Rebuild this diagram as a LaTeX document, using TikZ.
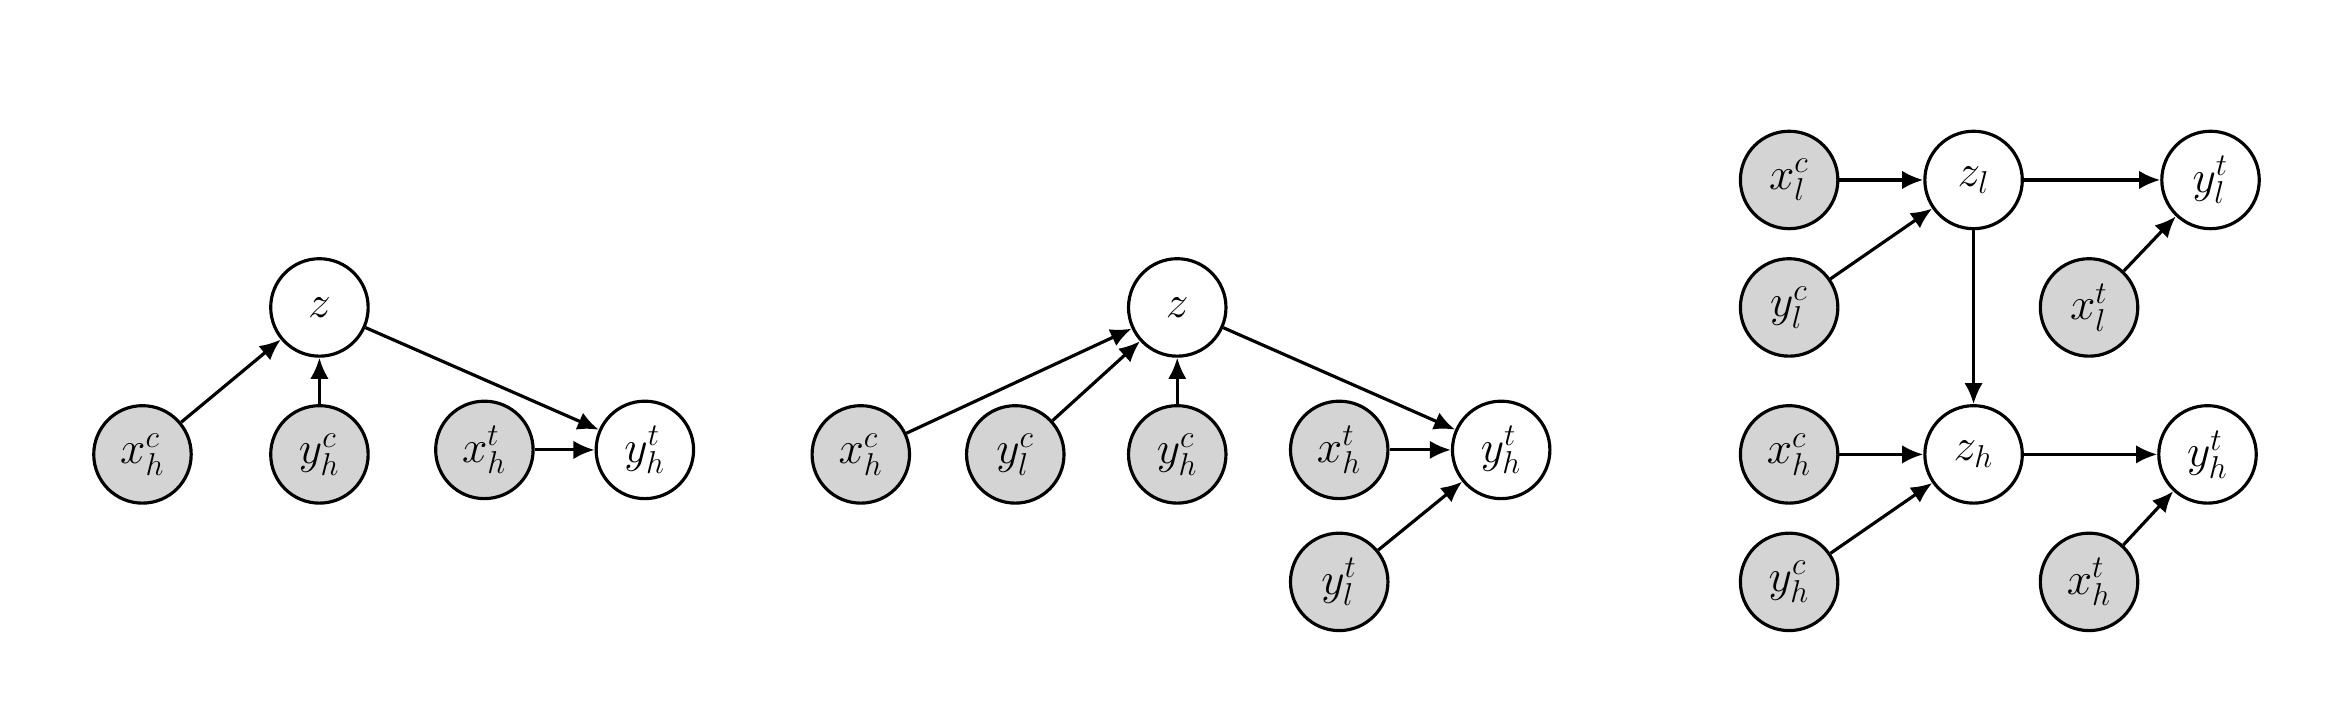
\documentclass[tikz,border=0pt]{standalone}
\usetikzlibrary{arrows.meta}
\begin{document}
\begin{tikzpicture}[x=0.02cm,y=-0.02cm,
  v/.style={circle,draw,line width=1.2pt,minimum size=1.3cm,inner sep=0pt,font=\LARGE},
  obs/.style={v,fill=black!17},
  lat/.style={v,fill=white},
  e/.style={-{Latex[length=8pt,width=7pt]},line width=1.2pt}]
\useasboundingbox (0,0) rectangle (1563,473);
% panel 1
\node[lat] (a z) at (213,205) {$z$};
\node[obs] (a xhc) at (95,303) {$x_h^c$};
\node[obs] (a yhc) at (213,303) {$y_h^c$};
\node[obs] (a xht) at (323,300) {$x_h^t$};
\node[lat] (a yht) at (430,300) {$y_h^t$};
\draw[e] (a xhc) -- (a z);
\draw[e] (a yhc) -- (a z);
\draw[e] (a z) -- (a yht);
\draw[e] (a xht) -- (a yht);
% panel 2
\node[lat] (b z) at (785,205) {$z$};
\node[obs] (b xhc) at (574,303) {$x_h^c$};
\node[obs] (b ylc) at (677,303) {$y_l^c$};
\node[obs] (b yhc) at (785,303) {$y_h^c$};
\node[obs] (b xht) at (893,300) {$x_h^t$};
\node[lat] (b yht) at (1001,300) {$y_h^t$};
\node[obs] (b ylt) at (893,388) {$y_l^t$};
\draw[e] (b xhc) -- (b z);
\draw[e] (b ylc) -- (b z);
\draw[e] (b yhc) -- (b z);
\draw[e] (b z) -- (b yht);
\draw[e] (b xht) -- (b yht);
\draw[e] (b ylt) -- (b yht);
% panel 3
\node[obs] (c xlc) at (1193,120) {$x_l^c$};
\node[lat] (c zl) at (1316,120) {$z_l$};
\node[lat] (c ylt) at (1474,120) {$y_l^t$};
\node[obs] (c ylc) at (1193,205) {$y_l^c$};
\node[obs] (c xlt) at (1393,205) {$x_l^t$};
\node[obs] (c xhc) at (1193,303) {$x_h^c$};
\node[lat] (c zh) at (1316,303) {$z_h$};
\node[lat] (c yht) at (1472,303) {$y_h^t$};
\node[obs] (c yhc) at (1193,388) {$y_h^c$};
\node[obs] (c xht) at (1393,388) {$x_h^t$};
\draw[e] (c xlc) -- (c zl);
\draw[e] (c ylc) -- (c zl);
\draw[e] (c zl) -- (c ylt);
\draw[e] (c xlt) -- (c ylt);
\draw[e] (c zl) -- (c zh);
\draw[e] (c xhc) -- (c zh);
\draw[e] (c yhc) -- (c zh);
\draw[e] (c zh) -- (c yht);
\draw[e] (c xht) -- (c yht);
\end{tikzpicture}
\end{document}
